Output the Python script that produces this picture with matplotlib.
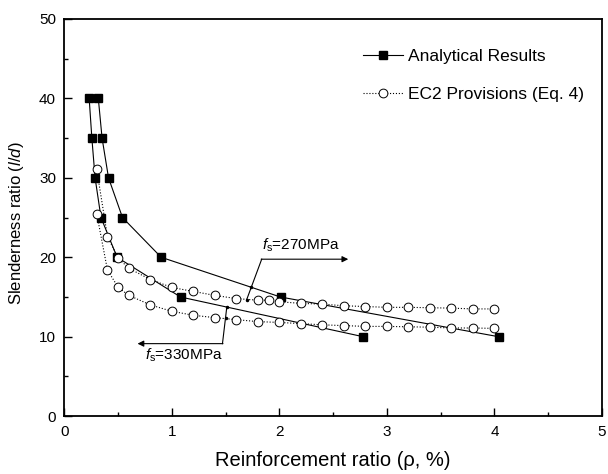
import numpy as np
import matplotlib
matplotlib.use('Agg')
from matplotlib import pyplot as plt
from matplotlib.ticker import MultipleLocator

plt.rcParams['font.family'] = ['Liberation Sans', 'DejaVu Sans']
plt.rcParams['mathtext.fontset'] = 'custom'
plt.rcParams['mathtext.rm'] = 'Liberation Sans'
plt.rcParams['mathtext.it'] = 'Liberation Sans:italic'

# Analytical results (filled squares)
ana_330_x = [0.23, 0.255, 0.285, 0.34, 0.49, 1.08, 2.78]
ana_330_y = [40, 35, 30, 25, 20, 15, 10]
ana_270_x = [0.315, 0.35, 0.41, 0.54, 0.90, 2.01, 4.04]
ana_270_y = [40, 35, 30, 25, 20, 15, 10]

# EC2 provisions (open circles)
ec2_x = [0.3, 0.4, 0.5, 0.6, 0.8, 1.0, 1.2, 1.4, 1.6, 1.8, 1.9, 2.0,
         2.2, 2.4, 2.6, 2.8, 3.0, 3.2, 3.4, 3.6, 3.8, 4.0]
ec2_270_y = [31.1, 22.6, 19.9, 18.6, 17.2, 16.2, 15.7, 15.2, 14.8, 14.6,
             14.6, 14.4, 14.2, 14.1, 13.9, 13.8, 13.7, 13.7, 13.65, 13.6,
             13.5, 13.5]
ec2_330_x = [0.3, 0.4, 0.5, 0.6, 0.8, 1.0, 1.2, 1.4, 1.6, 1.8, 2.0,
             2.2, 2.4, 2.6, 2.8, 3.0, 3.2, 3.4, 3.6, 3.8, 4.0]
ec2_330_y = [25.5, 18.4, 16.2, 15.2, 14.0, 13.2, 12.7, 12.4, 12.15, 11.9,
             11.8, 11.65, 11.5, 11.4, 11.3, 11.3, 11.25, 11.2, 11.1, 11.1,
             11.05]

fig = plt.figure(figsize=(6.08, 4.74), dpi=100)
ax = fig.add_axes([0.106, 0.122, 0.884, 0.838])

ana_style = dict(color='black', linewidth=0.8, marker='s', markersize=6,
                 markerfacecolor='black', markeredgecolor='black')
ec2_style = dict(color='black', linewidth=0.8, linestyle=':', marker='o',
                 markersize=6.3, markerfacecolor='white',
                 markeredgecolor='black', markeredgewidth=0.7)

ax.plot(ana_330_x, ana_330_y, **ana_style, label='Analytical Results')
ax.plot(ana_270_x, ana_270_y, **ana_style)
ax.plot(ec2_x, ec2_270_y, **ec2_style, label='EC2 Provisions (Eq. 4)')
ax.plot(ec2_330_x, ec2_330_y, **ec2_style)

# leader for fs = 270 MPa
ax.plot([1.695, 1.835], [14.66, 19.76], color='black', linewidth=0.8)
ax.plot([1.695, 1.74], [14.66, 16.3], 'k.', markersize=3)
ax.annotate('', xy=(2.64, 19.76), xytext=(1.83, 19.76),
            arrowprops=dict(arrowstyle='-|>', color='black', linewidth=0.8,
                            mutation_scale=9, shrinkA=0, shrinkB=0))
ax.text(1.84, 21.5, r'$\mathit{f}_\mathrm{s}$=270MPa', fontsize=11,
        ha='left', va='center')

# leader for fs = 330 MPa
ax.plot([1.51, 1.47], [13.7, 9.13], color='black', linewidth=0.8)
ax.plot([1.51, 1.50], [13.7, 12.4], 'k.', markersize=3)
ax.annotate('', xy=(0.68, 9.13), xytext=(1.475, 9.13),
            arrowprops=dict(arrowstyle='-|>', color='black', linewidth=0.8,
                            mutation_scale=9, shrinkA=0, shrinkB=0))
ax.text(0.75, 7.7, r'$\mathit{f}_\mathrm{s}$=330MPa', fontsize=11,
        ha='left', va='center')

ax.set_xlim(0, 5)
ax.set_ylim(0, 50)
ax.xaxis.set_major_locator(MultipleLocator(1))
ax.xaxis.set_minor_locator(MultipleLocator(0.5))
ax.yaxis.set_major_locator(MultipleLocator(10))
ax.yaxis.set_minor_locator(MultipleLocator(5))
ax.tick_params(which='both', direction='in', top=False, right=False,
               labelsize=11, width=1.0)
ax.tick_params(which='major', length=5.5, pad=6)
ax.tick_params(which='minor', length=3)
for spine in ax.spines.values():
    spine.set_linewidth(1.3)

ax.set_xlabel('Reinforcement ratio (\u03c1, %)', fontsize=14.5, va='top')
ax.xaxis.set_label_coords(0.5, -0.088)
ax.set_ylabel(r'Slenderness ratio ($\mathit{l/d}$)', fontsize=12)
ax.yaxis.set_label_coords(-0.072, 0.487)

ax.legend(loc='upper left', bbox_to_anchor=(0.543, 0.942), frameon=False,
          fontsize=12.5, handlelength=2.3, labelspacing=1.3,
          handletextpad=0.3, borderaxespad=0)

fig.savefig('out.png', dpi=100)
